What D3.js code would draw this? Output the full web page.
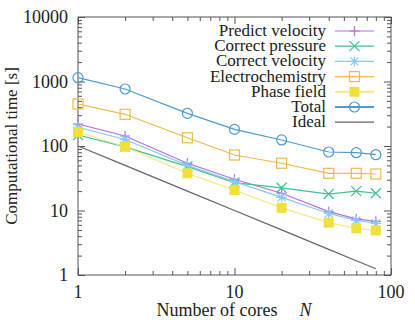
<!DOCTYPE html>
<html>
<head>
<meta charset="utf-8">
<script src="https://cdn.jsdelivr.net/npm/d3@7"></script>
<style>
  body { margin: 0; background: #fff; }
</style>
</head>
<body>
<svg width="415" height="323"></svg>
<script>
// data
var cores = [1, 2, 5, 10, 20, 40, 60, 80];
var predictVelocity = [219, 143, 54, 30.5, 18.5, 9.6, 7.4, 6.8];
var correctPressure = [148, 97, 48, 27, 22.5, 18, 20, 18.5];
var correctVelocity = [195, 126, 50, 28, 16, 9, 7, 6.3];
var electrochemistry = [448, 310, 134, 72.5, 54, 37.7, 37.7, 36.8];
var phaseField = [165, 97.5, 37.7, 20.8, 11, 6.5, 5.3, 4.9];
var total = [1145, 765, 321, 181, 124, 80.7, 78.7, 73.3];
var ideal = [100, 50, 20, 10, 5, 2.5, 1.667, 1.25];

var xMajor = [1, 10, 100];
var yMajor = [1, 10, 100, 1000, 10000];

var svg = d3.select("svg"),
  margin = {top: 17, right: 24, bottom: 48, left: 78},
  width = 391 - margin.left,
  height = 275 - margin.top;

var FONT = "Liberation Serif";

var x = d3.scaleLog().domain([1, 100]).range([margin.left, margin.left + width]);
var y = d3.scaleLog().domain([1, 10000]).range([margin.top + height, margin.top]);

function minors(lo, hi) {
  var out = [];
  for (var p = lo; p < hi; p *= 10)
    for (var k = 2; k <= 9; k++) out.push(p * k);
  return out;
}
var xMinor = minors(1, 100), yMinor = minors(1, 10000);

var axisColor = "#555";

// ticks on all sides, pointing inward
function ticks(g, axis, vals, size) {
  g.call(axis.tickValues(vals).tickSize(-size).tickFormat(""))
    .call(function(s) { s.select(".domain").remove(); })
    .selectAll("line").attr("stroke", axisColor);
}
var bottom = margin.top + height, right = margin.left + width;
ticks(svg.append("g").attr("transform", "translate(0," + bottom + ")"), d3.axisBottom(x), xMajor, 7);
ticks(svg.append("g").attr("transform", "translate(0," + bottom + ")"), d3.axisBottom(x), xMinor, 4);
ticks(svg.append("g").attr("transform", "translate(0," + margin.top + ")"), d3.axisTop(x), xMajor, 7);
ticks(svg.append("g").attr("transform", "translate(0," + margin.top + ")"), d3.axisTop(x), xMinor, 4);
ticks(svg.append("g").attr("transform", "translate(" + margin.left + ",0)"), d3.axisLeft(y), yMajor, 7);
ticks(svg.append("g").attr("transform", "translate(" + margin.left + ",0)"), d3.axisLeft(y), yMinor, 4);
ticks(svg.append("g").attr("transform", "translate(" + right + ",0)"), d3.axisRight(y), yMajor, 7);
ticks(svg.append("g").attr("transform", "translate(" + right + ",0)"), d3.axisRight(y), yMinor, 4);

svg.append("rect")
  .attr("x", margin.left).attr("y", margin.top)
  .attr("width", width).attr("height", height)
  .attr("fill", "none").attr("stroke", axisColor);

// tick labels
svg.append("g").selectAll("text").data(xMajor).enter().append("text")
  .attr("x", function(d) { return x(d); })
  .attr("y", bottom + 23)
  .attr("text-anchor", "middle")
  .attr("font-family", FONT).attr("font-size", 18).attr("fill", "#222")
  .text(function(d) { return d; });

svg.append("g").selectAll("text").data(yMajor).enter().append("text")
  .attr("x", margin.left - 10)
  .attr("y", function(d) { return y(d) + 6; })
  .attr("text-anchor", "end")
  .attr("font-family", FONT).attr("font-size", 18).attr("fill", "#222")
  .text(function(d) { return d; });

// axis titles
svg.append("text")
  .attr("transform", "translate(17," + (margin.top + height / 2) + ") rotate(-90)")
  .attr("text-anchor", "middle")
  .attr("font-family", FONT).attr("font-size", 17).attr("fill", "#222")
  .text("Computational time [s]");

var xl = svg.append("text")
  .attr("x", 234).attr("y", 316)
  .attr("text-anchor", "middle")
  .attr("font-family", FONT).attr("font-size", 18).attr("fill", "#222");
xl.append("tspan").text("Number of cores");
xl.append("tspan").attr("dx", 22).attr("font-style", "italic").text("N");

var series = [
  {name: "Predict velocity", values: predictVelocity, color: "#b76fe2", marker: "plus"},
  {name: "Correct pressure", values: correctPressure, color: "#45bf94", marker: "cross"},
  {name: "Correct velocity", values: correctVelocity, color: "#88c9f0", marker: "star"},
  {name: "Electrochemistry", values: electrochemistry, color: "#f1bb4c", marker: "square"},
  {name: "Phase field", values: phaseField, color: "#f4e98a", fill: "#efe03e", marker: "fsquare"},
  {name: "Total", values: total, color: "#4d9bd2", marker: "circle"},
  {name: "Ideal", values: ideal, color: "#666", marker: null}
];

var line = d3.line()
  .x(function(d) { return x(d[0]); })
  .y(function(d) { return y(d[1]); });

function drawMarker(g, type, s) {
  var r = 5;
  if (type === "plus") {
    g.append("path").attr("d", "M" + -r + ",0H" + r + "M0," + -r + "V" + r)
      .attr("stroke", s.color).attr("stroke-width", 1.2);
  } else if (type === "cross") {
    g.append("path").attr("d", "M-5,-5L5,5M-5,5L5,-5")
      .attr("stroke", s.color).attr("stroke-width", 1.2);
  } else if (type === "star") {
    g.append("path").attr("d", "M-5,0H5M0,-5V5M-4,-4L4,4M-4,4L4,-4")
      .attr("stroke", s.color).attr("stroke-width", 1.2);
  } else if (type === "square") {
    g.append("rect").attr("x", -5).attr("y", -5).attr("width", 10).attr("height", 10)
      .attr("fill", "none").attr("stroke", s.color).attr("stroke-width", 1.2);
  } else if (type === "fsquare") {
    g.append("rect").attr("x", -5).attr("y", -5).attr("width", 10).attr("height", 10)
      .attr("fill", s.fill).attr("stroke", "none");
  } else if (type === "circle") {
    g.append("circle").attr("r", 5)
      .attr("fill", "none").attr("stroke", s.color).attr("stroke-width", 1.2);
  }
}

var plot = svg.append("g");
series.forEach(function(s) {
  var pts = cores.map(function(c, i) { return [c, s.values[i]]; });
  plot.append("path")
    .attr("d", line(pts))
    .attr("fill", "none")
    .attr("stroke", s.color)
    .attr("stroke-width", 1.2);
  if (s.marker) {
    plot.append("g").selectAll("g").data(pts).enter().append("g")
      .attr("transform", function(d) { return "translate(" + x(d[0]) + "," + y(d[1]) + ")"; })
      .each(function() { drawMarker(d3.select(this), s.marker, s); });
  }
});

// legend
var legend = svg.append("g");
series.forEach(function(s, i) {
  var cy = 31 + i * 15.2;
  legend.append("text")
    .attr("x", 326).attr("y", cy + 5)
    .attr("text-anchor", "end")
    .attr("font-family", FONT).attr("font-size", 17).attr("fill", "#222")
    .text(s.name);
  legend.append("line")
    .attr("x1", 335).attr("x2", 374).attr("y1", cy).attr("y2", cy)
    .attr("stroke", s.color).attr("stroke-width", s.marker === "fsquare" || s.marker === "circle" ? 2 : 1.2);
  if (s.marker) drawMarker(legend.append("g").attr("transform", "translate(354.5," + cy + ")"), s.marker, s);
});
</script>
</body>
</html>
